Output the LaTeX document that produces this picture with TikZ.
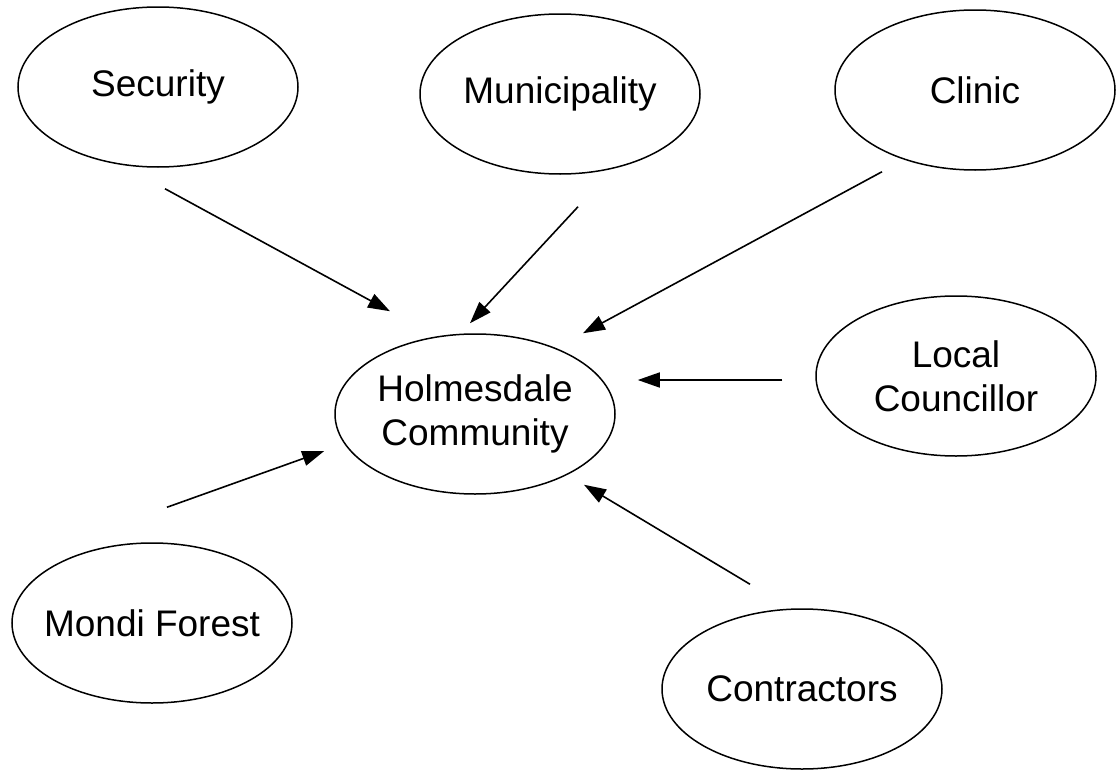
\documentclass[tikz,border=0pt]{standalone}
\usepackage{fontspec}
\setmainfont{Liberation Sans}
\usetikzlibrary{shapes.geometric,arrows.meta,calc}
\tikzset{
  actor/.style={draw, ellipse, line width=1.5pt, minimum width=280pt, minimum height=160pt, inner sep=0pt, align=center, font=\fontsize{37}{44}\selectfont},
  arr/.style={line width=1.6pt, -{Triangle[length=22pt,width=15pt]}}
}
\begin{document}
\begin{tikzpicture}[x=1pt,y=-1pt]
\useasboundingbox (0,0) rectangle (1117,771);
\node[actor] (sec) at (158,87) {Security};
\node[actor] (mun) at (560,94) {Municipality};
\node[actor] (cli) at (975,90) {Clinic};
\node[actor] (hol) at (475,414) {Holmesdale\\Community};
\node[actor] (loc) at (956,376) {Local\\Councillor};
\node[actor, inner xsep=-20pt] (mon) at (152,623) {Mondi Forest};
\node[actor] (con) at (802,689) {Contractors};
\draw[arr] ($(sec.south)+(7,21)$) -- ($(hol.north)+(-85,-22)$);
\draw[arr] ($(mun.south)+(18,32)$) -- ($(hol.north)+(-5,-10)$);
\draw[arr] ($(cli.south)+(-93,1)$) -- ($(hol.north)+(108,0)$);
\draw[arr] ($(loc.west)+(-33,4)$) -- ($(hol.east)+(22,-34)$);
\draw[arr] ($(mon.north)+(15,-35)$) -- ($(hol.west)+(-10,37)$);
\draw[arr] ($(con.north)+(-52,-24)$) -- ($(hol.south)+(109,-10)$);
\end{tikzpicture}
\end{document}
